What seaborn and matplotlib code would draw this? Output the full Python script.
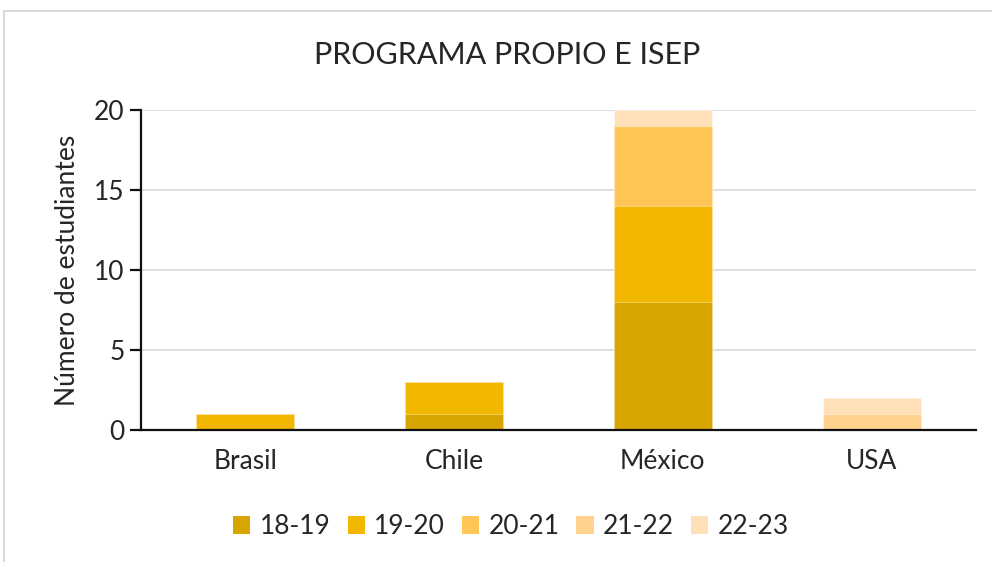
import pandas as pd
import numpy as np
import matplotlib.pyplot as plt
import seaborn as sns
from matplotlib.patches import Rectangle, Patch

paises = ["Brasil", "Chile", "México", "USA"]
cursos = ["18-19", "19-20", "20-21", "21-22", "22-23"]
n_18_19 = [0, 1, 8, 0]
n_19_20 = [1, 2, 6, 0]
n_20_21 = [0, 0, 5, 0]
n_21_22 = [0, 0, 0, 1]
n_22_23 = [0, 0, 1, 1]
colores = ["#D8A400", "#F2B700", "#FFC556", "#FFD28E", "#FFE0B8"]

valores = np.array([n_18_19, n_19_20, n_20_21, n_21_22, n_22_23])
acumulado = valores.cumsum(axis=0)

sns.set_style("white")
plt.rcParams["font.family"] = ["Lato", "DejaVu Sans"]

fig = plt.figure(figsize=(9.92, 5.62), dpi=100)
ax = fig.add_axes([141 / 992, 1 - 430 / 562, 835 / 992, 320 / 562])

# barras apiladas: se dibuja el acumulado de arriba hacia abajo
for i in reversed(range(len(cursos))):
    df = pd.DataFrame({"pais": paises, "n": acumulado[i]})
    sns.barplot(data=df, x="pais", y="n", color=colores[i], width=0.47,
                saturation=1, edgecolor=(1, 1, 1, 0.35), linewidth=0.8,
                ax=ax, zorder=3)

ax.set_ylim(0, 20)
ax.set_yticks([0, 5, 10, 15, 20])
ax.yaxis.grid(True, color="#D9D9D9", linewidth=1.2, zorder=0)
ax.set_axisbelow(True)
for s in ["top", "right"]:
    ax.spines[s].set_visible(False)
for s in ["bottom", "left"]:
    ax.spines[s].set_color("#111111")
    ax.spines[s].set_linewidth(1.6)
    ax.spines[s].set_zorder(5)
ax.tick_params(axis="y", left=True, length=8, width=1.6, color="#111111",
               labelsize=19, pad=4)
ax.tick_params(axis="x", bottom=False, labelsize=19, pad=10)
ax.set_xlabel("")
ax.set_ylabel("Número de estudiantes", fontsize=19, labelpad=10)

fig.text(507 / 992, 1 - 55 / 562, "PROGRAMA PROPIO E ISEP", fontsize=22,
         ha="center", va="center")

handles = [Patch(facecolor=c, edgecolor="none") for c in colores]
fig.legend(handles, cursos, loc="center", bbox_to_anchor=(511 / 992, 1 - 527 / 562),
           ncol=5, frameon=False, fontsize=19, handlelength=0.65, handleheight=0.65,
           handletextpad=0.35, columnspacing=0.65)

# marco del gráfico
fig.patches.append(Rectangle((4 / 992, -0.1), 1.2, 1 - 11 / 562 + 0.1,
                             transform=fig.transFigure, fill=False,
                             edgecolor="#D9D9D9", linewidth=1.5))

fig.savefig("out.png", dpi=100)
